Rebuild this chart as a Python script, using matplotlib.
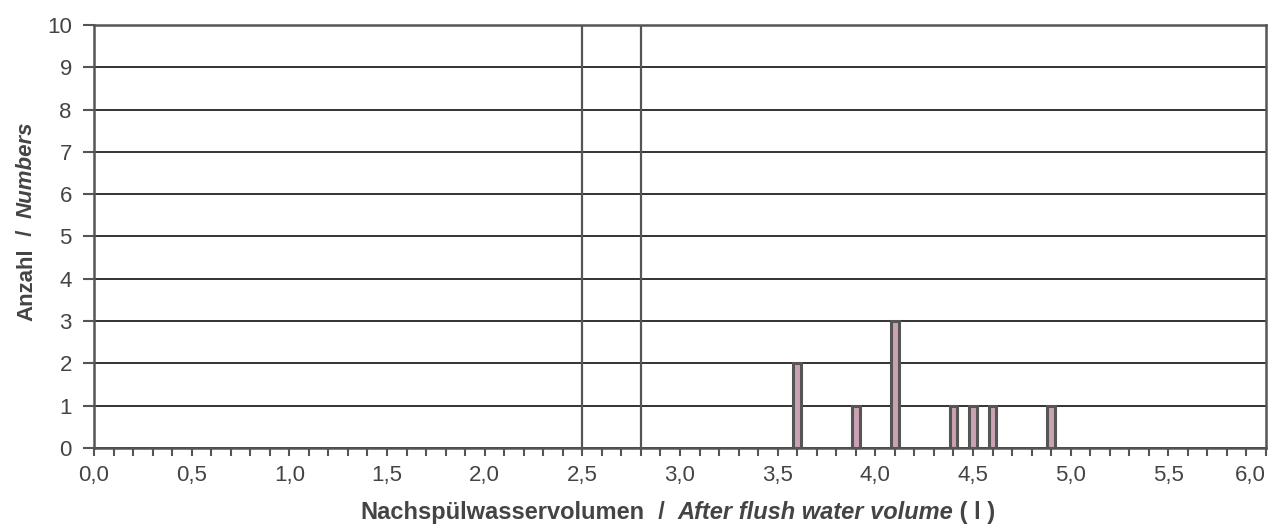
import numpy as np
import matplotlib
matplotlib.use("Agg")
import matplotlib.pyplot as plt
from matplotlib.ticker import MultipleLocator, FuncFormatter

plt.rcParams["font.family"] = ["Liberation Sans", "DejaVu Sans"]

# data
volumes = [3.6, 3.9, 4.1, 4.4, 4.5, 4.6, 4.9]
counts = [2, 1, 3, 1, 1, 1, 1]
limit_lines = [2.5, 2.8]

line_col = "#555555"
text_col = "#444444"

fig = plt.figure(figsize=(12.76, 5.31), dpi=100)
ax = fig.add_axes([94 / 1276, 1 - 448 / 531, 1172 / 1276, 423 / 531])

ax.bar(volumes, counts, width=0.04, color="#c9a3b3", edgecolor=line_col,
       linewidth=2.2, zorder=3)

for x in limit_lines:
    ax.axvline(x, color=line_col, linewidth=1.6, zorder=2)

ax.set_xlim(0, 6)
ax.set_ylim(0, 10)
ax.yaxis.set_major_locator(MultipleLocator(1))
ax.xaxis.set_major_locator(MultipleLocator(0.5))
ax.xaxis.set_minor_locator(MultipleLocator(0.1))
ax.xaxis.set_major_formatter(FuncFormatter(lambda v, p: f"{v:.1f}".replace(".", ",")))
ax.grid(axis="y", color="#333333", linewidth=1.4, zorder=1)

for s in ax.spines.values():
    s.set_color(line_col)
    s.set_linewidth(1.8)

ax.tick_params(axis="x", which="both", length=6, width=1.5, color=line_col,
               labelsize=16, labelcolor=text_col, pad=6)
ax.tick_params(axis="y", length=8, width=1.5, color=line_col,
               labelsize=16, labelcolor=text_col, pad=8)

fig.canvas.draw()
for lab in ax.get_xticklabels():
    if lab.get_text() == "6,0":
        lab.set_horizontalalignment("right")


def mixed_label(parts, center, size, vertical=False):
    """Place upright/italic pieces one after another, centred on `center` (px).
    center is (start-axis centre, baseline) in figure pixels."""
    r = fig.canvas.get_renderer()
    rot = 90 if vertical else 0
    texts = []
    for txt, style in parts:
        texts.append(fig.text(0, 0, txt, fontsize=size, fontweight="bold",
                              style=style, color=text_col, rotation=rot,
                              ha="left", va="baseline", rotation_mode="anchor"))
    sizes = []
    for t in texts:
        bb = t.get_window_extent(r)
        sizes.append(bb.height if vertical else bb.width)
    total = sum(sizes)
    W, H = fig.bbox.width, fig.bbox.height
    pos = center[1] - total / 2 if vertical else center[0] - total / 2
    for t, s in zip(texts, sizes):
        if vertical:
            t.set_position((center[0] / W, pos / H))
        else:
            t.set_position((pos / W, center[1] / H))
        pos += s


# x label (baseline ~ 12 px from the bottom), centred under the axes
mixed_label([("Nachspülwasservolumen", "normal"), ("  /  ", "normal"),
             ("After flush water volume", "italic"), (" ( l )", "normal")],
            center=(678, 12), size=17)

# y label, reading bottom to top; baseline at x ~ 32 px
mixed_label([("Anzahl", "normal"), ("  /  ", "normal"), ("Numbers", "italic")],
            center=(32, 531 - 221), size=16, vertical=True)

fig.savefig("out.png", dpi=100)
